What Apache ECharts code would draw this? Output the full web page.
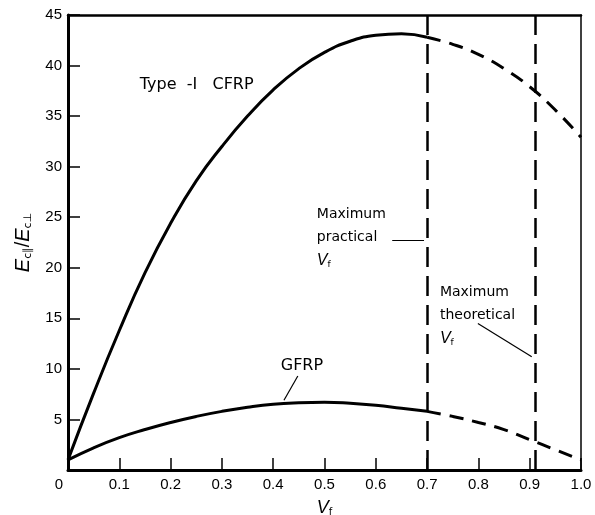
<!DOCTYPE html>
<html>
<head>
<meta charset="utf-8">
<script src="https://cdn.jsdelivr.net/npm/echarts@6/dist/echarts.min.js"></script>
<style>html,body{margin:0;padding:0;background:#fff}#c{width:595px;height:515px}</style>
</head>
<body>
<div id="c"></div>
<script>
// ---- data ----
const xTicks = [0, 0.1, 0.2, 0.3, 0.4, 0.5, 0.6, 0.7, 0.8, 0.9, 1.0];
const yTicks = [5, 10, 15, 20, 25, 30, 35, 40, 45];

const cfrpSolidVf = [0, 0.05, 0.1, 0.15, 0.2, 0.25, 0.3, 0.35, 0.4, 0.45, 0.5, 0.55, 0.6, 0.65, 0.7];
const cfrpSolidE  = [1.0, 7.6, 13.8, 19.5, 24.4, 28.6, 32.0, 35.0, 37.6, 39.7, 41.3, 42.4, 43.0, 43.15, 42.8];
const cfrpDashVf  = [0.7, 0.75, 0.8, 0.85, 0.9, 0.95, 1.0];
const cfrpDashE   = [42.8, 42.1, 41.1, 39.7, 37.9, 35.6, 32.9];

const gfrpSolidVf = [0, 0.05, 0.1, 0.15, 0.2, 0.25, 0.3, 0.35, 0.4, 0.45, 0.5, 0.55, 0.6, 0.65, 0.7];
const gfrpSolidE  = [1.0, 2.2, 3.2, 4.0, 4.7, 5.3, 5.8, 6.2, 6.5, 6.65, 6.7, 6.6, 6.4, 6.1, 5.8];
const gfrpDashVf  = [0.7, 0.75, 0.8, 0.85, 0.9, 0.95, 1.0];
const gfrpDashE   = [5.8, 5.3, 4.7, 4.0, 3.0, 2.0, 1.0];

const maxPracticalVf = 0.7;
const maxTheoreticalVf = 0.905;

const zip = (a, b) => a.map((v, i) => [v, b[i]]);

const FONT = 'Liberation Sans';
const AFONT = 'DejaVu Sans';
const rich = {
  i: { fontFamily: FONT, fontStyle: 'italic', fontSize: 20, color: '#000' },
  s: { fontFamily: AFONT, fontSize: 11, color: '#000', padding: [10, 0, 0, 0] },
  n: { fontFamily: FONT, fontSize: 20, color: '#000' },
  t: { fontFamily: AFONT, fontSize: 14, color: '#000', lineHeight: 23 },
  g: { fontFamily: AFONT, fontSize: 16, color: '#000' },
  c: { fontFamily: AFONT, fontSize: 16, color: '#000' },
  vi: { fontFamily: FONT, fontStyle: 'italic', fontSize: 16, color: '#000', lineHeight: 23 },
  vs: { fontFamily: AFONT, fontSize: 9, color: '#000', padding: [8, 0, 0, 0], lineHeight: 23 }
};

const curve = (data, dashed) => ({
  type: 'line', data, smooth: 0.5, symbol: 'none', silent: true,
  lineStyle: { color: '#000', width: 3, type: dashed ? [14, 9] : 'solid' }
});

const txt = (coord, formatter, align) => ({
  coord, symbol: 'rect', symbolSize: 0,
  label: { show: true, position: 'inside', align: align || 'left', verticalAlign: 'middle',
           formatter, rich, fontFamily: AFONT, fontSize: 14, color: '#000', lineHeight: 23 }
});

const leader = (a, b) => [{ coord: a }, { coord: b }];

const option = {
  animation: false,
  backgroundColor: '#fff',
  grid: { left: 68, right: 14, top: 15, bottom: 45, containLabel: false, outerBoundsMode: 'none' },
  xAxis: [{
    type: 'value', min: 0, max: 1, interval: 0.1,
    name: '{i|V}{s|f}', nameLocation: 'middle', nameGap: 28,
    nameTextStyle: { rich: Object.assign({}, rich, {
      i: { fontFamily: FONT, fontStyle: 'italic', fontSize: 18, color: '#000' },
      s: { fontFamily: AFONT, fontSize: 10, color: '#000', padding: [9, 0, 0, 0] } }) },
    axisLine: { show: true, onZero: false, lineStyle: { color: '#000', width: 3 } },
    axisTick: { show: true, inside: true, length: 12, lineStyle: { color: '#000', width: 1.5 } },
    splitLine: { show: false },
    axisLabel: {
      margin: 7, color: '#000', fontFamily: FONT, fontSize: 15,
      formatter: v => {
        const t = xTicks.find(k => Math.abs(k - v) < 1e-6);
        if (t === undefined) return '';
        return t === 0 ? '{z|0}' : t.toFixed(1);
      },
      rich: { z: { fontFamily: FONT, fontSize: 15, color: '#000', padding: [0, 18, 0, 0] } }
    }
  }, {
    type: 'value', min: 0, max: 1, position: 'top',
    axisLine: { show: true, onZero: false, lineStyle: { color: '#000', width: 2.5 } },
    axisTick: { show: false }, axisLabel: { show: false }, splitLine: { show: false }
  }],
  yAxis: [{
    type: 'value', min: 0, max: 45, interval: 5,
    name: '{i|E}{s|c∥}{n|/}{i|E}{s|c⊥}', nameLocation: 'middle', nameGap: 34, nameRotate: 90,
    nameTextStyle: { rich },
    axisLine: { show: true, onZero: false, lineStyle: { color: '#000', width: 3 } },
    axisTick: { show: true, inside: true, length: 12, lineStyle: { color: '#000', width: 1.5 } },
    splitLine: { show: false },
    axisLabel: {
      margin: 6, color: '#000', fontFamily: FONT, fontSize: 15,
      formatter: v => (yTicks.some(k => Math.abs(k - v) < 1e-6) ? String(v) : '')
    }
  }, {
    type: 'value', min: 0, max: 45, position: 'right',
    axisLine: { show: true, onZero: false, lineStyle: { color: '#000', width: 1.5 } },
    axisTick: { show: false }, axisLabel: { show: false }, splitLine: { show: false }
  }],
  series: [
    Object.assign(curve(zip(cfrpSolidVf, cfrpSolidE), false), {
      markPoint: {
        silent: true,
        data: [
          txt([0.140, 38.1], '{c|Type  -I   CFRP}'),
          txt([0.456, 10.3], '{g|GFRP}', 'center'),
          txt([0.485, 23.0], '{t|Maximum}\n{t|practical}\n{vi|V}{vs|f}'),
          txt([0.725, 15.3], '{t|Maximum}\n{t|theoretical}\n{vi|V}{vs|f}')
        ]
      },
      markLine: {
        silent: true, symbol: 'none', label: { show: false },
        lineStyle: { color: '#000', width: 1.2, type: 'solid' },
        data: [
          leader([0.448, 9.3], [0.421, 6.9]),
          leader([0.632, 22.7], [0.694, 22.7]),
          leader([0.799, 14.5], [0.904, 11.2])
        ]
      }
    }),
    curve(zip(cfrpDashVf, cfrpDashE), true),
    curve(zip(gfrpSolidVf, gfrpSolidE), false),
    Object.assign(curve(zip(gfrpDashVf, gfrpDashE), true), {
      markLine: {
        silent: true, symbol: 'none', label: { show: false },
        lineStyle: { color: '#000', width: 2.5, type: [20, 9] },
        data: [{ xAxis: maxPracticalVf }, { xAxis: maxTheoreticalVf }]
      }
    })
  ]
};

const chart = echarts.init(document.getElementById('c'), null, { renderer: 'canvas' });
chart.setOption(option);
</script>
</body>
</html>
